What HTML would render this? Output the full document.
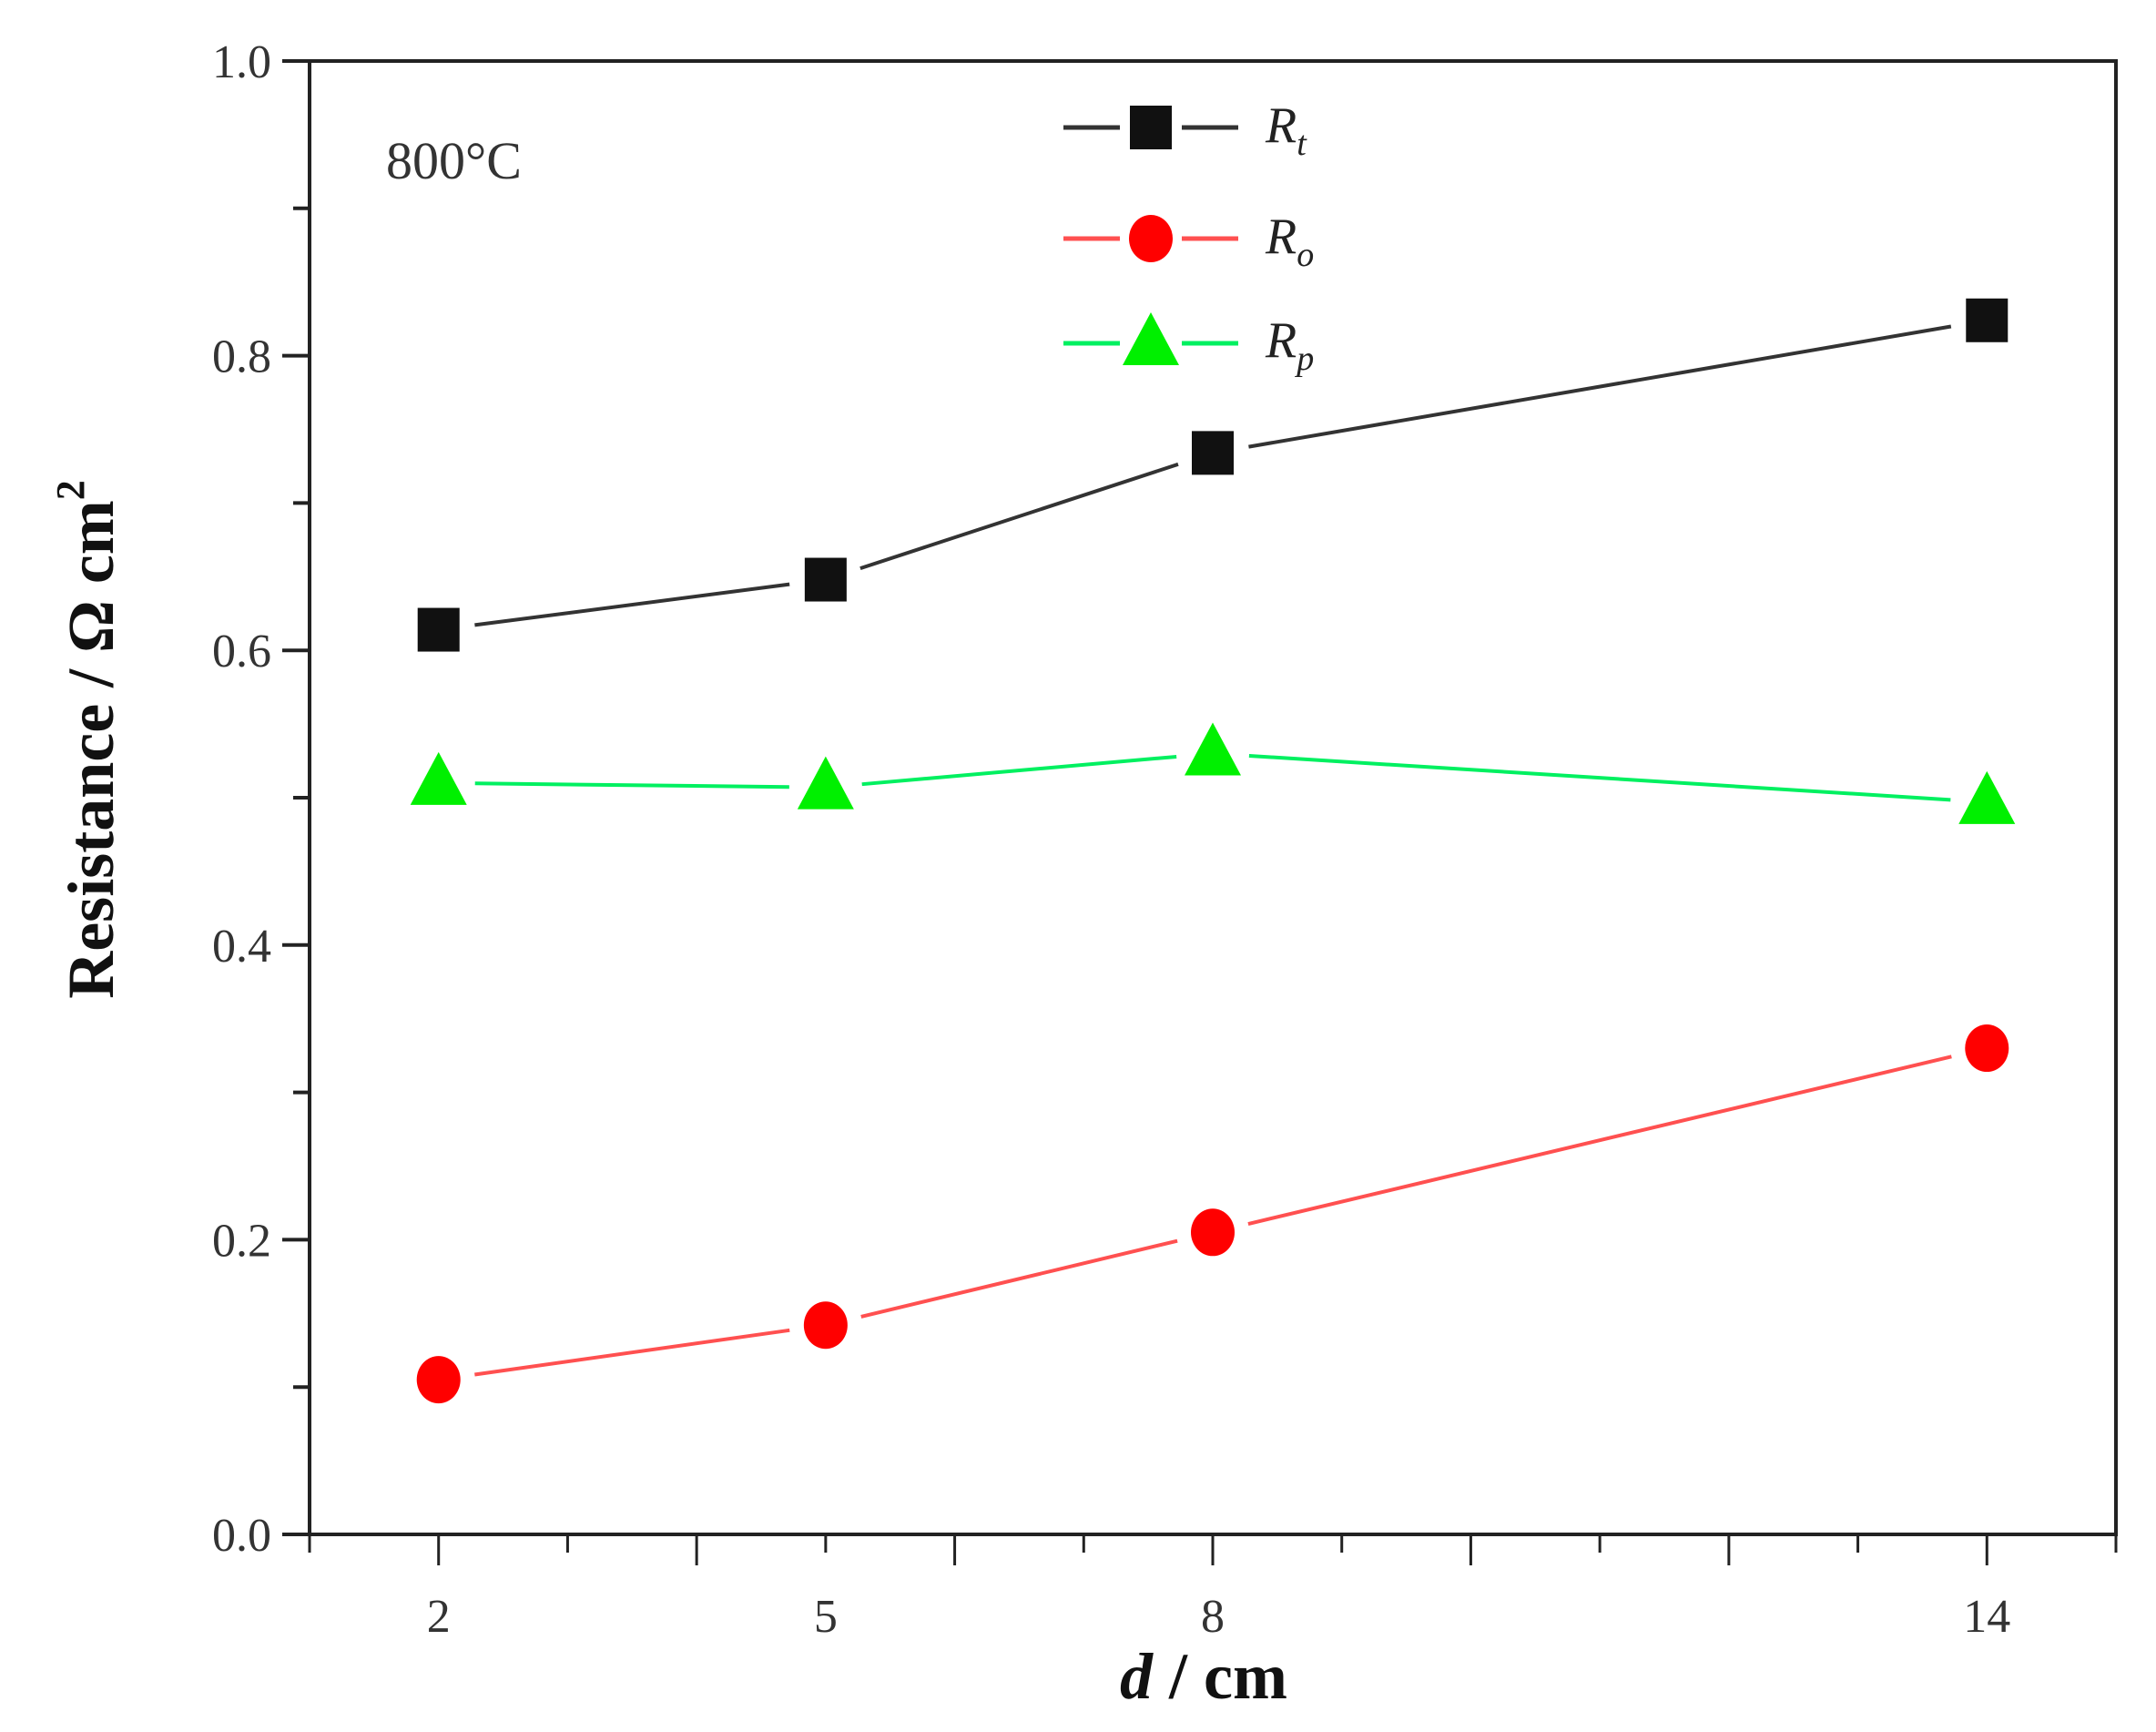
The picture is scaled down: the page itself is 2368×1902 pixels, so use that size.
<!DOCTYPE html>
<html><head><meta charset="utf-8"><style>
html,body{margin:0;padding:0;background:#fff;}
svg{display:block;}
text{font-family:"Liberation Serif",serif;}
</style></head><body>
<svg id="s" width="2368" height="1902" viewBox="0 0 2368 1902" xmlns="http://www.w3.org/2000/svg">
<rect width="2368" height="1902" fill="#fff"/>
<g id="g"></g>
<text x="424" y="196" font-size="58" fill="#333">800°C</text>
<text transform="translate(124,812) rotate(-90)" text-anchor="middle" font-size="72" font-weight="bold" fill="#111">Resistance / Ω cm<tspan font-size="44" dy="-32">2</tspan></text>
<text x="1322" y="1865" text-anchor="middle" font-size="72" font-weight="bold" fill="#111"><tspan font-style="italic">d</tspan> / cm</text>
<text x="1390" y="156" font-size="56" font-style="italic" fill="#222">R<tspan font-size="38" dy="14">t</tspan></text>
<text x="1390" y="278" font-size="56" font-style="italic" fill="#222">R<tspan font-size="38" dy="14">o</tspan></text>
<text x="1390" y="392" font-size="56" font-style="italic" fill="#222">R<tspan font-size="38" dy="14">p</tspan></text>
</svg>
<script>
const g=document.getElementById('g');let h='';
const L0=340,R0=2324,T0=67,B0=1685;
const X=v=>L0+(v-1)*(R0-L0)/14, Y=v=>B0-v*(B0-T0);
h+=`<rect x="${L0}" y="${T0}" width="${R0-L0}" height="${B0-T0}" fill="none" stroke="#222" stroke-width="4"/>`;
for(let i=0;i<=10;i++){const y=Y(i/10);const L=i%2==0?30:18;h+=`<line x1="${L0-L}" y1="${y}" x2="${L0}" y2="${y}" stroke="#222" stroke-width="4"/>`;
 if(i%2==0)h+=`<text x="298" y="${y+18}" text-anchor="end" font-size="52" fill="#333">${(i/10).toFixed(1)}</text>`;}
for(let v=1;v<=15;v++){const x=X(v);const L=v%2==0?34:20;h+=`<line x1="${x}" y1="${B0}" x2="${x}" y2="${B0+L}" stroke="#222" stroke-width="3"/>`;}
[2,5,8,14].forEach(v=>h+=`<text x="${X(v)}" y="1792" text-anchor="middle" font-size="52" fill="#333">${v}</text>`);
const xs=[2,5,8,14];
const S=[{d:[0.614,0.648,0.734,0.824],c:'#111',lc:'#333',m:'sq'},{d:[0.51,0.507,0.53,0.497],c:'#00f000',lc:'#00f060',m:'tri'},{d:[0.105,0.142,0.205,0.33],c:'#f00',lc:'#ff5050',m:'ci'}];
function mk(m,x,y,c){if(m=='sq')return `<rect x="${x-23}" y="${y-24}" width="46" height="48" fill="${c}"/>`;
 if(m=='ci')return `<ellipse cx="${x}" cy="${y}" rx="24" ry="26" fill="${c}"/>`;
 return `<polygon points="${x},${y-34} ${x+31},${y+24} ${x-31},${y+24}" fill="${c}"/>`;}
S.forEach(s=>{const p=xs.map((v,i)=>[X(v),Y(s.d[i])]);
 for(let i=0;i<3;i++){const [x1,y1]=p[i],[x2,y2]=p[i+1];const dx=x2-x1,dy=y2-y1,l=Math.hypot(dx,dy),g=40;
  h+=`<line x1="${x1+dx/l*g}" y1="${y1+dy/l*g}" x2="${x2-dx/l*g}" y2="${y2-dy/l*g}" stroke="${s.lc}" stroke-width="4"/>`;}
 p.forEach(q=>h+=mk(s.m,q[0],q[1],s.c));});
[[140,S[0]],[262,S[2]],[377,S[1]]].forEach(([y,s])=>{h+=`<line x1="1168" y1="${y}" x2="1230" y2="${y}" stroke="${s.lc}" stroke-width="5"/><line x1="1298" y1="${y}" x2="1360" y2="${y}" stroke="${s.lc}" stroke-width="5"/>`+mk(s.m,1264,y,s.c);});
g.innerHTML=h;
</script>
</body></html>
